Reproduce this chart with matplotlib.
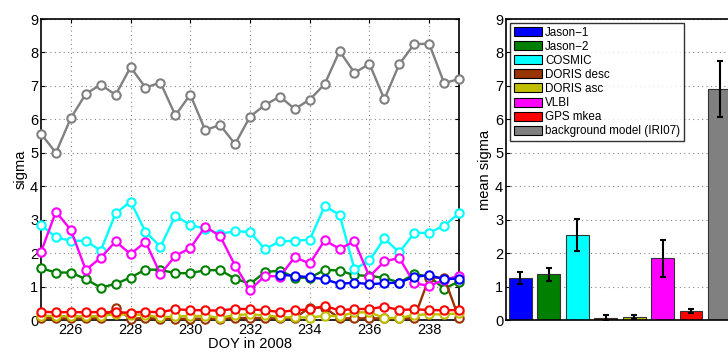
import numpy as np
import matplotlib
matplotlib.use("Agg")
import matplotlib.pyplot as plt

plt.rcParams['font.family'] = ['Liberation Sans', 'DejaVu Sans']

names = ['Jason\u22121', 'Jason\u22122', 'COSMIC', 'DORIS desc', 'DORIS asc',
         'VLBI', 'GPS mkea', 'background model (IRI07)']
colors = ['#0000ff', '#007f00', '#00ffff', '#993300', '#bfbf00',
          '#ff00ff', '#ff0000', '#808080']

doy = np.arange(225.0, 239.01, 0.5)

jason1_doy = np.arange(233.0, 239.01, 0.5)
jason1 = [1.35, 1.32, 1.28, 1.22, 1.08, 1.12, 1.07, 1.10, 1.12, 1.29, 1.34, 1.22, 1.24]
jason2 = [1.55, 1.42, 1.42, 1.22, 0.97, 1.08, 1.27, 1.51, 1.50, 1.40, 1.40, 1.49, 1.49,
          1.24, 1.08, 1.43, 1.48, 1.27, 1.26, 1.50, 1.48, 1.34, 1.32, 1.26, 1.12, 1.37,
          1.30, 0.94, 1.15]
cosmic = [2.85, 2.47, 2.37, 2.37, 2.07, 3.19, 3.54, 2.64, 2.19, 3.12, 2.84, 2.73, 2.57,
          2.66, 2.63, 2.12, 2.35, 2.37, 2.40, 3.40, 3.15, 1.52, 1.78, 2.44, 2.02, 2.60,
          2.61, 2.82, 3.19]
doris_desc = [0.06, 0.05, 0.05, 0.05, 0.05, 0.35, 0.04, 0.06, 0.04, 0.04, 0.04, 0.04,
              0.04, 0.06, 0.06, 0.06, 0.05, 0.06, 0.37, 0.37, 0.05, 0.05, 0.05, 0.05,
              0.05, 0.05, 1.27, 1.27, 0.05]
doris_asc = [0.13, 0.12, 0.11, 0.11, 0.12, 0.17, 0.16, 0.15, 0.08, 0.11, 0.12, 0.12,
             0.07, 0.15, 0.17, 0.14, 0.09, 0.08, 0.07, 0.13, 0.11, 0.23, 0.23, 0.06,
             0.06, 0.15, 0.17, 0.17, 0.20]
vlbi = [2.03, 3.24, 2.69, 1.50, 1.86, 2.35, 1.97, 2.34, 1.37, 1.92, 2.15, 2.79, 2.51,
        1.63, 0.90, 1.32, 1.30, 1.88, 1.69, 2.38, 2.13, 2.35, 1.30, 1.75, 1.86, 1.10,
        1.02, 1.20, 1.32]
gps = [0.25, 0.23, 0.24, 0.23, 0.24, 0.23, 0.22, 0.25, 0.23, 0.32, 0.30, 0.29, 0.28,
       0.34, 0.32, 0.29, 0.24, 0.29, 0.32, 0.42, 0.29, 0.33, 0.33, 0.40, 0.30, 0.32,
       0.30, 0.29, 0.30]
iri = [5.57, 5.00, 6.04, 6.76, 7.04, 6.73, 7.56, 6.95, 7.10, 6.12, 6.74, 5.68, 5.83,
       5.26, 6.08, 6.43, 6.68, 6.31, 6.59, 7.05, 8.04, 7.39, 7.66, 6.60, 7.65, 8.25,
       8.26, 7.09, 7.20]

mean_sigma = [1.25, 1.37, 2.54, 0.06, 0.09, 1.85, 0.27, 6.90]
mean_err = [0.18, 0.19, 0.48, 0.08, 0.05, 0.55, 0.05, 0.84]

fig = plt.figure(figsize=(7.28, 3.54), dpi=100)
ax1 = fig.add_axes([0.0563, 0.096, 0.5742, 0.8503])
ax2 = fig.add_axes([0.695, 0.096, 0.313, 0.8503])

# daily time series, half-day sampling
series = [(jason1_doy, jason1), (doy, jason2), (doy, cosmic), (doy, doris_desc),
          (doy, doris_asc), (doy, vlbi), (doy, gps), (doy, iri)]
zorders = [9, 3, 4, 5, 6, 7, 8, 10]
for (xx, yy), c, z in zip(series, colors, zorders):
    ax1.plot(xx, yy, '-o', color=c, lw=1.7, ms=6, mfc='white', mec=c, mew=1.5,
             zorder=z, clip_on=False)

ax1.set_xlim(225, 239)
ax1.set_ylim(0, 9)
ax1.set_xticks(np.arange(226, 239, 2))
ax1.set_yticks(np.arange(0, 10, 1))
ax1.grid(True, ls=(0, (1, 3)), color='#888888', lw=0.8)
ax1.set_xlabel('DOY in 2008', fontsize=10.5, labelpad=0)
ax1.set_ylabel('sigma', fontsize=10.5, labelpad=2)

# mean sigma per technique
pos = np.arange(1, len(mean_sigma) + 1)
ax2.bar(pos, mean_sigma, 0.8, color=colors, edgecolor='#333333', lw=0.8, zorder=2)
ax2.errorbar(pos, mean_sigma, yerr=mean_err, fmt='none', ecolor='black',
             elinewidth=1.5, capsize=2.5, capthick=1.5, zorder=3)
ax2.set_xlim(0.5, 8.5)
ax2.set_ylim(0, 9)
ax2.set_xticks([])
ax2.set_yticks(np.arange(0, 10, 1))
ax2.yaxis.grid(True, ls=(0, (1, 3)), color='#888888', lw=0.8)
ax2.set_axisbelow(True)
ax2.set_ylabel('mean sigma', fontsize=10.5, labelpad=2)

handles = [plt.Rectangle((0, 0), 1, 1, fc=c, ec='black', lw=0.8) for c in colors]
leg = ax2.legend(handles, names, loc='upper left', fontsize=8.4, frameon=True,
                 fancybox=False, edgecolor='black', handlelength=2.4,
                 handleheight=0.8, handletextpad=0.3, labelspacing=0.18,
                 borderpad=0.3, borderaxespad=0.35)
leg.get_frame().set_linewidth(1.0)

for ax in (ax1, ax2):
    ax.tick_params(direction='in', length=3, width=0.8, labelsize=10.5,
                   top=True, right=True, pad=2)
    for s in ax.spines.values():
        s.set_linewidth(1.2)

fig.savefig('out.png', dpi=100)
